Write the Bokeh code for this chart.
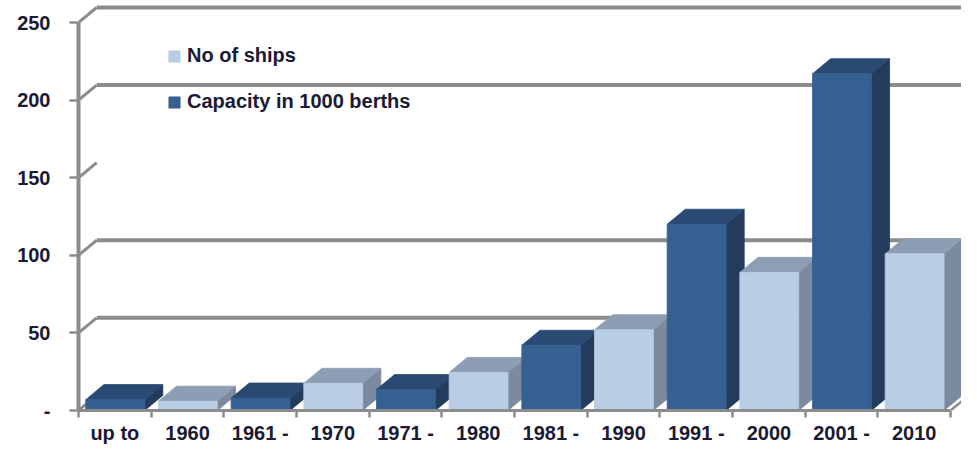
from bokeh.plotting import figure
from bokeh.models import Range1d, FixedTicker, Legend, LegendItem, LinearAxis, ColumnDataSource
from bokeh.embed import file_html
from bokeh.resources import INLINE

# ---- data ----
periods = ["up to 1960", "1961 - 1970", "1971 - 1980", "1981 - 1990", "1991 - 2000", "2001 - 2010"]
bar_labels = ["up to", "1960", "1961 -", "1970", "1971 -", "1980",
              "1981 -", "1990", "1991 -", "2000", "2001 -", "2010"]
capacity = [7, 8, 13.5, 42, 120, 217]      # Capacity in 1000 berths
ships = [6, 17.5, 24.5, 52, 89, 101]       # No of ships
y_ticks = [0, 50, 100, 150, 200, 250]
y_tick_labels = ["-", "50", "100", "150", "200", "250"]
grid_levels = [50, 100, 200, 250]

# ---- style ----
X_END = 12.15
Y_END = 264.2
DX = 0.25      # depth offset (x data units)
DY = 9.7       # depth offset (y data units)
BAR_OFF = 0.1
BAR_W = 0.81
GRAY = "#8c8c8c"
TXT = "#1a1a35"
FONT = "Liberation Sans"
DARK = ("#365f92", "#2a4a74", "#233b5c")    # front, top, side
LIGHT = ("#b9cde5", "#8d9db3", "#7c8a9d")

# ---- faces ----
xs, ys, fills = [], [], []
idx_dark = idx_light = None
slot = 0
for cap, shp in zip(capacity, ships):
    for val, cols, kind in ((cap, DARK, "d"), (shp, LIGHT, "l")):
        x0 = slot + BAR_OFF
        x1 = x0 + BAR_W
        # side
        xs.append([x1, x1 + DX, x1 + DX, x1]); ys.append([0, DY, val + DY, val]); fills.append(cols[2])
        # top
        xs.append([x0, x1, x1 + DX, x0 + DX]); ys.append([val, val, val + DY, val + DY]); fills.append(cols[1])
        # front
        xs.append([x0, x1, x1, x0]); ys.append([0, 0, val, val]); fills.append(cols[0])
        if kind == "d" and idx_dark is None:
            idx_dark = len(xs) - 1
        if kind == "l" and idx_light is None:
            idx_light = len(xs) - 1
        slot += 1

p = figure(width=961, height=447, x_range=Range1d(0, X_END), y_range=Range1d(0, Y_END),
           output_backend="svg", toolbar_location=None, x_axis_location=None,
           min_border_left=78, min_border_right=0, min_border_top=0, min_border_bottom=37)
p.outline_line_color = None
p.grid.visible = False
p.background_fill_color = "white"
p.border_fill_color = "white"

# back wall grid lines
p.segment(x0=[DX] * len(grid_levels), x1=[X_END] * len(grid_levels),
          y0=[g + DY for g in grid_levels], y1=[g + DY for g in grid_levels],
          line_color=GRAY, line_width=4)
# diagonal stubs from the front axis to the back wall
p.segment(x0=[0] * len(y_ticks), x1=[DX] * len(y_ticks),
          y0=y_ticks, y1=[t + DY for t in y_ticks], line_color=GRAY, line_width=3)
# right floor edge
p.segment(x0=[12], x1=[12 + DX], y0=[0], y1=[DY], line_color=GRAY, line_width=2.5)

src = ColumnDataSource(dict(xs=xs, ys=ys, fill=fills))
r = p.patches("xs", "ys", source=src, fill_color="fill", line_color="fill", line_width=0.8)

# y axis
ya = p.yaxis[0]
ya.ticker = FixedTicker(ticks=y_ticks)
ya.bounds = (0, 250)
ya.major_label_overrides = {t: l for t, l in zip(y_ticks, y_tick_labels)}
ya.axis_line_color = GRAY
ya.axis_line_width = 4
ya.major_tick_line_color = GRAY
ya.major_tick_line_width = 2.5
ya.major_tick_out = 9
ya.major_tick_in = 0
ya.minor_tick_line_color = None
ya.major_label_standoff = 19
ya.major_label_text_font = FONT
ya.major_label_text_font_style = "bold"
ya.major_label_text_font_size = "20px"
ya.major_label_text_color = TXT

# x axis
label_pos = [i + 0.5 for i in range(len(bar_labels))]
xa = LinearAxis(bounds=(0, 12),
                ticker=FixedTicker(ticks=label_pos, minor_ticks=list(range(13))),
                major_label_overrides={pos: lab for pos, lab in zip(label_pos, bar_labels)},
                axis_line_color=GRAY, axis_line_width=3,
                major_tick_line_color=None, major_tick_out=0, major_tick_in=0,
                minor_tick_out=7, minor_tick_in=0, minor_tick_line_color=GRAY,
                minor_tick_line_width=2.5, major_label_standoff=4,
                major_label_text_font=FONT, major_label_text_font_style="bold",
                major_label_text_font_size="20px", major_label_text_color=TXT)
p.add_layout(xa, "below")

legend = Legend(items=[LegendItem(label="No of ships", renderers=[r], index=idx_light),
                       LegendItem(label="Capacity in 1000 berths", renderers=[r], index=idx_dark)],
                location=(89, 297), border_line_color=None, background_fill_alpha=0,
                padding=0, margin=0, spacing=23, glyph_width=14, glyph_height=14,
                label_standoff=6, label_text_font=FONT, label_text_font_style="bold",
                label_text_font_size="20px", label_text_color=TXT)
p.add_layout(legend)

open("out.html", "w").write(file_html(p, INLINE))
